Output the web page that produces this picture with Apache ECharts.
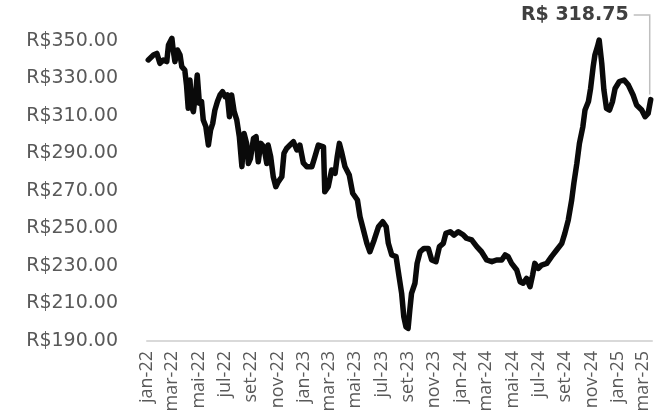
<!DOCTYPE html>
<html>
<head>
    <meta charset="utf-8">
    <title>Preço</title>
    <script src="https://cdn.jsdelivr.net/npm/echarts@6/dist/echarts.min.js"></script>
    <style>
        html, body { margin: 0; padding: 0; background: #fff; }
        #main { width: 662px; height: 420px; }
    </style>
</head>
<body>
    <div id="main"></div>
    <script>
        // datas (aprox. semanais) e preços
        var dates = [
            '2022-01-04', '2022-01-16', '2022-01-24', '2022-01-31', '2022-02-08', '2022-02-16', '2022-02-20', '2022-02-28',
            '2022-03-03', '2022-03-07', '2022-03-13', '2022-03-19', '2022-03-23', '2022-03-30', '2022-04-03', '2022-04-07',
            '2022-04-11', '2022-04-15', '2022-04-19', '2022-04-25', '2022-04-28', '2022-05-03', '2022-05-08', '2022-05-12',
            '2022-05-18', '2022-05-24', '2022-05-29', '2022-06-03', '2022-06-08', '2022-06-14', '2022-06-20', '2022-06-26',
            '2022-07-02', '2022-07-07', '2022-07-12', '2022-07-17', '2022-07-23', '2022-07-29', '2022-08-04', '2022-08-10',
            '2022-08-15', '2022-08-21', '2022-08-25', '2022-08-30', '2022-09-06', '2022-09-12', '2022-09-17', '2022-09-23',
            '2022-09-30', '2022-10-07', '2022-10-10', '2022-10-16', '2022-10-22', '2022-10-28', '2022-11-03', '2022-11-11',
            '2022-11-16', '2022-11-22', '2022-11-30', '2022-12-08', '2022-12-16', '2022-12-23', '2022-12-31', '2023-01-08',
            '2023-01-20', '2023-01-27', '2023-02-04', '2023-02-08', '2023-02-16', '2023-02-19', '2023-02-27', '2023-03-07',
            '2023-03-15', '2023-03-20', '2023-03-25', '2023-03-30', '2023-04-07', '2023-04-17', '2023-04-25', '2023-05-06',
            '2023-05-12', '2023-05-20', '2023-05-28', '2023-06-04', '2023-06-14', '2023-06-24', '2023-07-04', '2023-07-12',
            '2023-07-17', '2023-07-25', '2023-08-04', '2023-08-11', '2023-08-17', '2023-08-22', '2023-08-27', '2023-09-01',
            '2023-09-05', '2023-09-09', '2023-09-17', '2023-09-22', '2023-09-29', '2023-10-08', '2023-10-18', '2023-10-26',
            '2023-11-05', '2023-11-13', '2023-11-22', '2023-11-28', '2023-12-08', '2023-12-17', '2023-12-27', '2024-01-08',
            '2024-01-15', '2024-01-27', '2024-02-08', '2024-02-19', '2024-03-02', '2024-03-14', '2024-03-25', '2024-04-06',
            '2024-04-14', '2024-04-21', '2024-04-29', '2024-05-11', '2024-05-19', '2024-05-26', '2024-06-03', '2024-06-11',
            '2024-06-17', '2024-06-22', '2024-06-30', '2024-07-08', '2024-07-20', '2024-07-31', '2024-08-12', '2024-08-24',
            '2024-08-31', '2024-09-08', '2024-09-16', '2024-09-21', '2024-09-28', '2024-10-04', '2024-10-12', '2024-10-17',
            '2024-10-25', '2024-10-30', '2024-11-05', '2024-11-09', '2024-11-15', '2024-11-19', '2024-11-25', '2024-11-30',
            '2024-12-06', '2024-12-13', '2024-12-20', '2024-12-26', '2025-01-05', '2025-01-16', '2025-01-26', '2025-02-06',
            '2025-02-14', '2025-02-26', '2025-03-06', '2025-03-13', '2025-03-19'
        ];
        var prices = [
            339.9, 342.5, 343.4, 338.1, 339.9, 339.0, 347.9, 351.4,
            345.2, 339.0, 345.2, 342.5, 336.3, 334.5, 326.5, 314.1,
            329.2, 315.0, 312.3, 323.9, 331.9, 316.8, 317.7, 307.9,
            304.4, 294.5, 302.5, 306.0, 313.1, 317.7, 321.2, 323.0,
            320.3, 321.2, 309.6, 321.2, 312.3, 307.9, 299.0, 283.0,
            300.7, 295.4, 284.7, 287.4, 298.0, 299.0, 285.6, 295.4,
            293.6, 284.7, 294.5, 288.3, 277.6, 272.3, 275.0, 277.6,
            290.1, 292.7, 294.5, 296.3, 291.9, 294.5, 285.0, 283.0,
            283.0, 288.3, 294.5, 294.5, 293.6, 269.6, 272.3, 281.2,
            279.4, 288.3, 295.4, 291.0, 283.0, 278.5, 268.8, 265.2,
            256.3, 249.2, 242.1, 237.6, 243.9, 250.9, 253.6, 250.9,
            242.1, 235.9, 235.0, 224.3, 215.4, 203.0, 197.6, 196.7,
            206.5, 215.4, 220.8, 231.4, 237.6, 239.4, 239.4, 233.2,
            232.3, 240.3, 242.1, 247.4, 248.3, 246.5, 248.3, 246.5,
            244.8, 243.9, 240.3, 237.6, 233.2, 232.3, 233.2, 233.2,
            235.9, 235.0, 231.4, 227.9, 221.6, 220.8, 223.4, 219.0,
            225.2, 231.4, 228.7, 230.5, 231.4, 235.0, 238.5, 242.1,
            247.4, 254.5, 265.2, 274.1, 284.7, 295.4, 304.3, 313.2,
            317.7, 324.7, 336.3, 342.5, 347.0, 350.5, 338.1, 323.9,
            314.1, 313.2, 317.7, 324.7, 328.4, 329.2, 326.5, 321.2,
            315.9, 313.2, 309.6, 311.4, 318.75
        ];
        // rótulos do eixo x: a cada dois meses
        var tickDates = [
            '2022-01-01', '2022-03-01', '2022-05-01', '2022-07-01', '2022-09-01', '2022-11-01',
            '2023-01-01', '2023-03-01', '2023-05-01', '2023-07-01', '2023-09-01', '2023-11-01',
            '2024-01-01', '2024-03-01', '2024-05-01', '2024-07-01', '2024-09-01', '2024-11-01',
            '2025-01-01', '2025-03-01'
        ];
        var monthNames = ['jan', 'fev', 'mar', 'abr', 'mai', 'jun', 'jul', 'ago', 'set', 'out', 'nov', 'dez'];
        var axisStart = '2022-01-01';
        var axisEnd = '2025-03-22';

        function toTime(s) {
            var p = s.split('-');
            return new Date(+p[0], +p[1] - 1, +p[2]).getTime();
        }

        var seriesData = [];
        for (var i = 0; i < dates.length; i++) {
            seriesData.push([toTime(dates[i]), prices[i]]);
        }
        var tickValues = tickDates.map(toTime);

        var myChart = echarts.init(document.getElementById('main'));
        var option = {
            backgroundColor: '#ffffff',
            animation: false,
            grid: {
                left: 147,
                right: 10,
                top: 41,
                bottom: 79
            },
            xAxis: {
                type: 'value',
                min: toTime(axisStart),
                max: toTime(axisEnd),
                axisLine: { show: true, lineStyle: { color: '#d9d9d9', width: 2 } },
                axisTick: { show: false },
                splitLine: { show: false },
                axisLabel: {
                    customValues: tickValues,
                    rotate: 90,
                    margin: 10,
                    color: '#595959',
                    fontFamily: 'Open Sans',
                    fontSize: 18,
                    formatter: function (value) {
                        var d = new Date(value);
                        return monthNames[d.getMonth()] + '-' + String(d.getFullYear()).slice(2);
                    }
                }
            },
            yAxis: {
                type: 'value',
                min: 190,
                max: 350,
                interval: 20,
                axisLine: { show: false },
                axisTick: { show: false },
                splitLine: { show: false },
                axisLabel: {
                    margin: 29,
                    color: '#595959',
                    fontFamily: 'DejaVu Sans',
                    fontSize: 19,
                    formatter: function (v) { return 'R$' + v.toFixed(2); }
                }
            },
            series: [
                {
                    name: 'Preço',
                    type: 'line',
                    data: seriesData,
                    showSymbol: false,
                    clip: false,
                    lineStyle: { color: '#0a0a0a', width: 5.5, join: 'round', cap: 'round' }
                }
            ]
        };
        myChart.setOption(option);

        // anotação do último valor
        var last = seriesData[seriesData.length - 1];
        var pt = myChart.convertToPixel({ seriesIndex: 0 }, last);
        var labelY = 15;
        myChart.setOption({
            graphic: [
                {
                    type: 'text',
                    x: pt[0] - 22,
                    y: labelY,
                    style: {
                        text: 'R$ ' + last[1].toFixed(2),
                        fill: '#404040',
                        font: 'bold 19px "DejaVu Sans"',
                        textAlign: 'right',
                        textVerticalAlign: 'middle'
                    }
                },
                {
                    type: 'polyline',
                    shape: { points: [[pt[0] - 17, labelY], [pt[0] - 1, labelY], [pt[0] - 1, pt[1] - 5]] },
                    style: { stroke: '#bfbfbf', lineWidth: 1.5, fill: null }
                }
            ]
        });
    </script>
</body>
</html>
